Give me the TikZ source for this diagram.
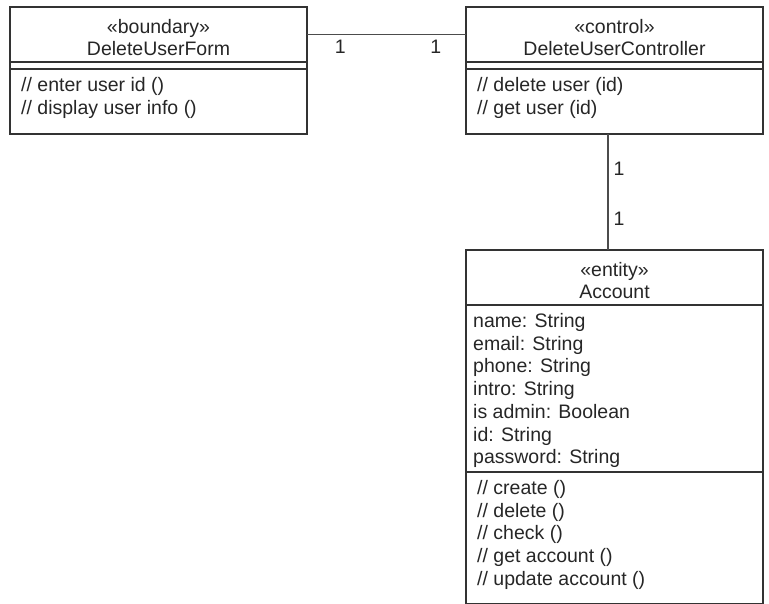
\documentclass[tikz,border=0pt]{standalone}
\usepackage{fontspec}
\setmainfont{Liberation Sans}
\usetikzlibrary{positioning}
\newcommand{\headstrut}{\rule{0pt}{20pt}}
\begin{document}
\begin{tikzpicture}[x=1pt,y=-1pt,
        every node/.style={font=\fontsize{19.5}{22.7}\selectfont,text=black!85},
        part/.style={draw=black!80,line width=1.2pt,minimum width=297pt,inner sep=0pt,outer sep=0pt},
        members/.style={anchor=north west,align=left,inner xsep=11pt,inner ysep=6.5pt},
        mult/.style={inner sep=5pt},
        assoc/.style={draw=black!70,line width=1.4pt}]
    \useasboundingbox (0,0) rectangle (769,604);
    % boundary class
    \node[part,minimum height=55pt,align=center] at (158.5,34.5) (formHead) {\headstrut«boundary»\\DeleteUserForm};
    \node[part,minimum height=7pt,below=0pt of formHead] (formAttr) {};
    \node[part,minimum height=65pt,below=0pt of formAttr] (formOps) {};
    \node[members] at (formOps.north west) (formOpsText) {\strut// enter user id ()\\// display user info ()};
    % control class
    \node[part,minimum height=55pt,align=center] at (614.5,34.5) (ctrlHead) {\headstrut«control»\\DeleteUserController};
    \node[part,minimum height=7pt,below=0pt of ctrlHead] (ctrlAttr) {};
    \node[part,minimum height=65pt,below=0pt of ctrlAttr] (ctrlOps) {};
    \node[members] at (ctrlOps.north west) (ctrlOpsText) {\strut// delete user (id)\\// get user (id)};
    % entity class
    \node[part,minimum height=55pt,align=center] at (614.5,277.5) (accHead) {\headstrut«entity»\\Account};
    \node[part,minimum height=167pt,below=0pt of accHead] (accAttr) {};
    \node[part,minimum height=132pt,below=0pt of accAttr] (accOps) {};
    \node[members,inner xsep=7pt] at (accAttr.north west) (accAttrText) {\strut name: String\\email: String\\phone: String\\intro: String\\is admin: Boolean\\id: String\\password: String};
    \node[members] at (accOps.north west) (accOpsText) {\strut// create ()\\// delete ()\\// check ()\\// get account ()\\// update account ()};
    %\node[members] at (accOps.north west) {};
    \path[assoc] (formHead.east) -- node[mult,below,pos=.21] (multFormA) {1}
        node[mult,below,pos=.81] (multCtrlA) {1} (ctrlHead.west);
    \path[assoc] ([xshift=-6.5pt]ctrlOps.south) -- node[mult,right,pos=.3] (multCtrlB) {1}
        node[mult,right,pos=.73] (multAcc) {1} ([xshift=-6.5pt]accHead.north);
\end{tikzpicture}
\end{document}
